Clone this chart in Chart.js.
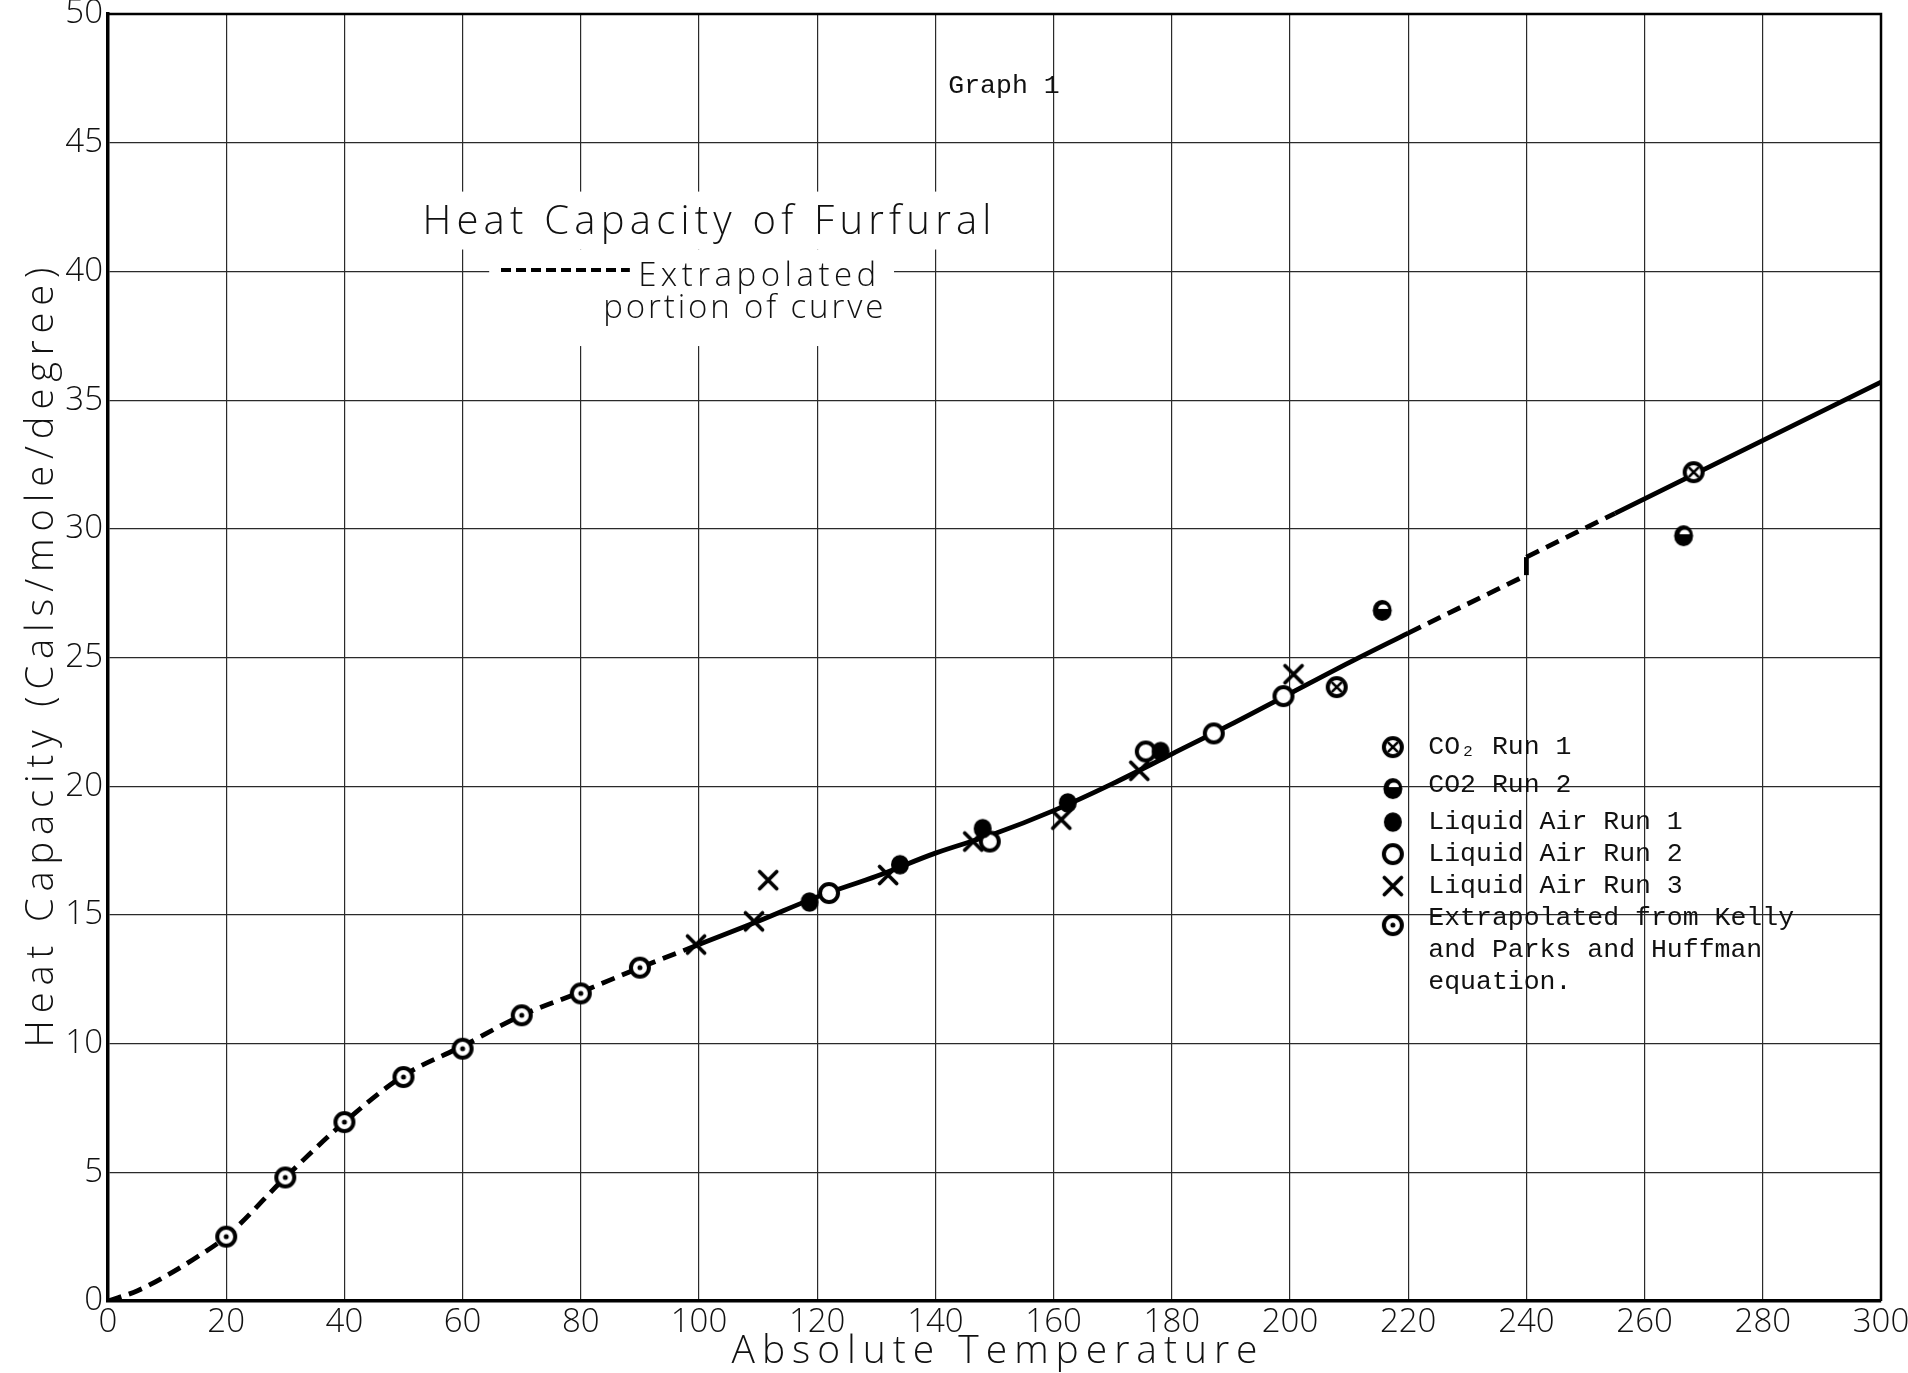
<!DOCTYPE html>
<html lang="en">

<head>
  <meta charset="UTF-8" />
  <title>Heat Capacity of Furfural</title>
  <script src="https://cdn.jsdelivr.net/npm/chart.js"></script>
  <style>
    html, body { margin: 0; padding: 0; background: #fff; }
    #wrap { width: 1908px; height: 1373px; }
  </style>
</head>

<body>
  <div id="wrap"><canvas id="heatChart" width="1908" height="1373"></canvas></div>

  <script>
    // --- values (T in K, Cp in cal/mole/degree) ---
    const tempTicks = [0, 20, 40, 60, 80, 100, 120, 140, 160, 180, 200, 220, 240, 260, 280, 300];
    const cpTicks = [0, 5, 10, 15, 20, 25, 30, 35, 40, 45, 50];

    // smooth curve, split where the drawing switches between dashed and solid
    const lowCurveT = [0, 5, 10, 15, 20, 30, 40, 50, 60, 70, 80, 90, 100];
    const lowCurveCp = [0, 0.4, 1.0, 1.7, 2.5, 4.8, 6.95, 8.75, 9.9, 11.1, 12.0, 12.95, 13.85];
    const midCurveT = [100, 110, 120, 130, 140, 150, 160, 170, 180, 190, 200, 210, 220];
    const midCurveCp = [13.85, 14.75, 15.7, 16.5, 17.4, 18.15, 19.05, 20.1, 21.25, 22.4, 23.6, 24.8, 25.95];
    const gapCurveT = [220, 240];
    const gapCurveCp = [25.95, 28.2];
    const jumpT = [240, 240];
    const jumpCp = [28.2, 28.9];
    const upperDashT = [240, 255];
    const upperDashCp = [28.9, 30.6];
    const highCurveT = [255, 300];
    const highCurveCp = [30.6, 35.7];

    // measured points
    const co2Run1T = [207.9, 268.3];
    const co2Run1Cp = [23.85, 32.2];
    const co2Run2T = [215.6, 266.6];
    const co2Run2Cp = [26.85, 29.75];
    const airRun1T = [118.7, 134.0, 148.0, 162.4, 178.1];
    const airRun1Cp = [15.5, 16.95, 18.35, 19.35, 21.35];
    const airRun2T = [122.0, 149.2, 175.6, 187.1, 198.9];
    const airRun2Cp = [15.85, 17.85, 21.35, 22.05, 23.5];
    const airRun3T = [99.5, 109.3, 111.7, 132.0, 146.4, 161.3, 174.5, 200.6];
    const airRun3Cp = [13.85, 14.75, 16.35, 16.55, 17.85, 18.7, 20.6, 24.35];
    const kellyT = [20, 30, 40, 50, 60, 70, 80, 90];
    const kellyCp = [2.5, 4.8, 6.95, 8.7, 9.8, 11.1, 11.95, 12.95];

    const HAND = "'Open Sans', 'DejaVu Sans', sans-serif";
    const TYPE = "'Liberation Mono', 'Courier New', monospace";
    const INK = "#111";

    const pts = (xs, ys) => xs.map((v, i) => ({ x: v, y: ys[i] }));

    // hand drawn looking marker glyphs
    function marker(kind) {
      const c = document.createElement("canvas");
      c.width = c.height = 32;
      const g = c.getContext("2d");
      g.translate(16, 16);
      g.strokeStyle = "#000";
      g.fillStyle = "#000";
      g.lineWidth = 4;
      g.lineCap = "round";
      const ring = (r) => {
        g.beginPath(); g.arc(0, 0, r, 0, Math.PI * 2);
        g.fillStyle = "#fff"; g.fill(); g.stroke(); g.fillStyle = "#000";
      };
      if (kind === "ringDot") {
        ring(9);
        g.beginPath(); g.arc(0, 0, 2.5, 0, Math.PI * 2); g.fill();
      } else if (kind === "ringX") {
        ring(9);
        g.lineWidth = 2.6;
        g.beginPath(); g.moveTo(-4.2, -4.2); g.lineTo(4.2, 4.2); g.moveTo(4.2, -4.2); g.lineTo(-4.2, 4.2); g.stroke();
      } else if (kind === "half") {
        g.beginPath(); g.ellipse(0, 0.5, 9.5, 10.5, 0, 0, Math.PI * 2); g.fill();
        g.fillStyle = "#fff";
        g.beginPath(); g.ellipse(1, -1, 5, 4.5, 0, Math.PI, Math.PI * 2); g.fill();
      } else if (kind === "dot") {
        g.beginPath(); g.ellipse(0, 0, 9, 9.8, 0, 0, Math.PI * 2); g.fill();
      } else if (kind === "ring") {
        ring(9);
      } else if (kind === "x") {
        g.lineWidth = 3.8;
        g.beginPath(); g.moveTo(-8.5, -8.5); g.lineTo(8.5, 8.5); g.moveTo(8.5, -8.5); g.lineTo(-8.5, 8.5); g.stroke();
      }
      return c;
    }

    const curve = (label, xs, ys, dashed) => ({
      label, data: pts(xs, ys), showLine: true, pointRadius: 0,
      borderColor: "#000", borderWidth: 4.8, borderDash: dashed ? [14, 8] : [],
      cubicInterpolationMode: "monotone", order: 10
    });
    const points = (label, xs, ys, kind) => ({
      label, data: pts(xs, ys), showLine: false,
      pointStyle: marker(kind), pointRadius: 11, order: 0
    });

    const datasets = [
      curve("extrapolated low", lowCurveT, lowCurveCp, true),
      curve("curve", midCurveT, midCurveCp, false),
      curve("extrapolated gap", gapCurveT, gapCurveCp, true),
      curve("transition", jumpT, jumpCp, false),
      curve("extrapolated upper", upperDashT, upperDashCp, true),
      curve("curve high", highCurveT, highCurveCp, false),
      points("CO₂ Run 1", co2Run1T, co2Run1Cp, "ringX"),
      points("CO2 Run 2", co2Run2T, co2Run2Cp, "half"),
      points("Liquid Air Run 1", airRun1T, airRun1Cp, "dot"),
      points("Liquid Air Run 2", airRun2T, airRun2Cp, "ring"),
      points("Liquid Air Run 3", airRun3T, airRun3Cp, "x"),
      points("Extrapolated from Kelly|and Parks and Huffman|equation.", kellyT, kellyCp, "ringDot")
    ];

    // text stretched to a given width, like the hand lettering
    function spaced(ctx, text, left, cy, width, font) {
      ctx.font = font;
      ctx.letterSpacing = "0px";
      const w0 = ctx.measureText(text).width;
      const gap = Math.max(0, (width - w0) / Math.max(1, text.length - 1));
      ctx.letterSpacing = gap.toFixed(2) + "px";
      ctx.textAlign = "left";
      ctx.textBaseline = "middle";
      ctx.fillText(text, left, cy);
      ctx.letterSpacing = "0px";
    }

    const paperNotes = {
      id: "paperNotes",
      beforeDatasetsDraw(chart) {
        const { ctx, chartArea: a, scales: { x, y } } = chart;
        const px = (v) => x.getPixelForValue(v);
        const py = (v) => y.getPixelForValue(v);
        ctx.save();

        // top / right frame
        ctx.strokeStyle = "#000";
        ctx.lineWidth = 2.5;
        ctx.beginPath();
        ctx.moveTo(a.left, a.top); ctx.lineTo(a.right, a.top); ctx.lineTo(a.right, a.bottom);
        ctx.stroke();

        // white patches where the lettering covers the grid
        ctx.fillStyle = "#fff";
        ctx.fillRect(px(56), py(43.1), px(151) - px(56), py(40.85) - py(43.1));
        ctx.fillRect(px(64.5), py(40.85), px(133) - px(64.5), py(37.1) - py(40.85));

        ctx.fillStyle = INK;
        spaced(ctx, "Heat Capacity of Furfural", px(53.2), py(41.88), 569, `300 40px ${HAND}`);
        spaced(ctx, "Extrapolated", px(89.7), py(39.8), 238, `300 33px ${HAND}`);
        spaced(ctx, "portion of curve", px(83.8), py(38.55), 280, `300 33px ${HAND}`);

        ctx.strokeStyle = "#000";
        ctx.lineWidth = 4;
        ctx.setLineDash([10, 5]);
        ctx.beginPath();
        ctx.moveTo(px(66.5), py(40.05)); ctx.lineTo(px(88.3), py(40.05));
        ctx.stroke();
        ctx.setLineDash([]);

        ctx.font = `26.5px ${TYPE}`;
        ctx.textAlign = "center";
        ctx.textBaseline = "middle";
        ctx.fillText("Graph 1", px(151.6), py(47.2));

        // axis titles
        spaced(ctx, "Absolute Temperature", (a.left + a.right) / 2 - 263, 1352, 526, `300 39px ${HAND}`);
        ctx.save();
        ctx.translate(42, (a.top + a.bottom) / 2);
        ctx.rotate(-Math.PI / 2);
        spaced(ctx, "Heat Capacity (Cals/mole/degree)", -390, 0, 780, `300 38px ${HAND}`);
        ctx.restore();

        ctx.restore();
      },
      afterDatasetsDraw(chart) {
        const { ctx, scales: { x, y } } = chart;
        const mx = x.getPixelForValue(217.4);
        const tx = x.getPixelForValue(223.4);
        const top = y.getPixelForValue(21.52);
        const textRows = [0, 38, 75, 107, 139, 171];
        const markRows = [0, 41, 75, 107, 139, 178];
        ctx.save();
        ctx.fillStyle = INK;
        ctx.font = `26.5px ${TYPE}`;
        ctx.textAlign = "left";
        ctx.textBaseline = "middle";
        chart.data.datasets.filter((d) => !d.showLine).forEach((d, i) => {
          const img = d.pointStyle;
          ctx.drawImage(img, mx - img.width / 2, top + markRows[i] - img.height / 2);
          d.label.split("|").forEach((line, k) => {
            ctx.fillText(line, tx, top + textRows[i] + k * 32);
          });
        });
        ctx.restore();
      }
    };

    const tickFont = { family: HAND, size: 33, weight: 300 };

    new Chart(document.getElementById("heatChart"), {
      type: "scatter",
      data: { datasets },
      options: {
        responsive: false,
        animation: false,
        events: [],
        layout: { padding: { top: 14, right: 27, bottom: 0, left: 0 } },
        plugins: { legend: { display: false }, tooltip: { enabled: false } },
        scales: {
          x: {
            type: "linear", min: 0, max: 300,
            afterBuildTicks: (s) => { s.ticks = tempTicks.map((v) => ({ value: v })); },
            afterFit: (s) => { s.height = 72; s.paddingLeft = 0; s.paddingRight = 0; },
            grid: { color: "#2a2a2a", lineWidth: 1.2, drawTicks: false },
            border: { color: "#000", width: 3.5 },
            ticks: { font: tickFont, color: INK, padding: 2, maxRotation: 0, autoSkip: false }
          },
          y: {
            type: "linear", min: 0, max: 50,
            afterBuildTicks: (s) => { s.ticks = cpTicks.map((v) => ({ value: v })); },
            afterFit: (s) => { s.width = 108; s.paddingTop = 0; s.paddingBottom = 0; },
            grid: { color: "#2a2a2a", lineWidth: 1.2, drawTicks: false },
            border: { color: "#000", width: 3.5 },
            ticks: { font: tickFont, color: INK, padding: 5, autoSkip: false }
          }
        }
      },
      plugins: [paperNotes]
    });
  </script>
</body>

</html>
